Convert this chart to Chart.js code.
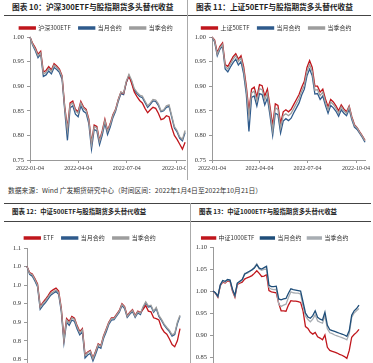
<!DOCTYPE html>
<html>
<head>
<meta charset="utf-8">
<script src="https://cdn.jsdelivr.net/npm/chart.js@4.4.0/dist/chart.umd.min.js"></script>
<style>
html, body { margin: 0; padding: 0; background: #fff; }
body { width: 373px; height: 363px; position: relative; overflow: hidden; font-family: "Noto Sans CJK SC", sans-serif; }
.clip { position: absolute; overflow: hidden; }
.box { position: absolute; left: 0; }
.title { position: absolute; font-weight: bold; color: #222; white-space: nowrap; line-height: 10px; }
.note { position: absolute; font-size: 6.8px; color: #333; white-space: nowrap; line-height: 10px; }
.hline { position: absolute; height: 1px; background: #444; }
.vline { position: absolute; width: 1px; background: #aaa; }
</style>
</head>
<body>
<div class="title" style="left:12px;top:2px;font-size:7.7px">图表 10：沪深300ETF与股指期货多头替代收益</div>
<div class="title" style="left:196px;top:2px;font-size:7.7px">图表 11：上证50ETF与股指期货多头替代收益</div>
<div class="hline" style="left:4px;top:15px;width:367px"></div>
<div class="vline" style="left:187px;top:0;height:180px"></div>
<div class="note" style="left:8px;top:185px">数据来源：Wind 广发期货研究中心（时间区间：2022年1月4日至2022年10月21日）</div>
<div class="hline" style="left:4px;top:203px;width:367px"></div>
<div class="title" style="left:12px;top:207px;font-size:6.4px">图表 12：中证500ETF与股指期货多头替代收益</div>
<div class="title" style="left:199px;top:207px;font-size:6.4px">图表 13：中证1000ETF与股指期货多头替代收益</div>
<div class="hline" style="left:4px;top:221px;width:367px"></div>
<div class="vline" style="left:190px;top:203px;height:160px"></div>

<div class="clip" style="left:0;top:17px;width:186px;height:163px"><div class="box" style="top:0;width:192px;height:163px"><canvas id="c300"></canvas></div></div>
<div class="clip" style="left:188px;top:17px;width:185px;height:163px"><div class="box" style="top:0;width:185px;height:163px"><canvas id="c50"></canvas></div></div>
<div class="clip" style="left:0;top:222px;width:189px;height:141px"><div class="box" style="top:5px;width:189px;height:171px"><canvas id="c500"></canvas></div></div>
<div class="clip" style="left:191px;top:222px;width:182px;height:141px"><div class="box" style="top:7px;width:182px;height:170px"><canvas id="c1000"></canvas></div></div>

<script>
// calendar days after 2022-01-04
var days = [0,5,10,15,20,25,30,35,40,45,50,55,60,65,70,75,80,85,90,95,100,105,110,115,120,125,130,135,140,145,150,155,160,165,170,175,180,185,190,195,200,205,210,215,220,225,230,235,240,245,250,255,260,265,270,275,280,285,290];
var xTickDays = [0, 90, 181, 273];
var xTickLabels = ['2022-01-04', '2022-04-04', '2022-07-04', '2022-10-04'];

var yTicksTop = [0.75, 0.80, 0.85, 0.90, 0.95, 1.00];
var yLabelsTop = ['0.75', '0.80', '0.85', '0.90', '0.95', '1.00'];
var yTicks500 = [0.70, 0.75, 0.80, 0.85, 0.90, 0.95, 1.00, 1.05];
var yLabels500 = ['0.7', '0.8', '0.8', '0.9', '0.9', '1.0', '1.0', '1.1'];
var yTicks1000 = [0.80, 0.85, 0.90, 0.95, 1.00, 1.05, 1.10];
var yLabels1000 = ['0.80', '0.85', '0.90', '0.95', '1.00', '1.05', '1.10'];

// 沪深300
var hs300Etf = [1.000,0.987,0.978,0.965,0.971,0.929,0.932,0.940,0.933,0.946,0.941,0.935,0.921,0.858,0.815,0.866,0.870,0.853,0.848,0.869,0.858,0.853,0.833,0.785,0.821,0.818,0.790,0.809,0.833,0.810,0.824,0.842,0.853,0.873,0.888,0.885,0.908,0.921,0.906,0.888,0.879,0.871,0.866,0.855,0.846,0.852,0.857,0.855,0.845,0.832,0.834,0.840,0.838,0.816,0.800,0.792,0.782,0.772,0.786];
var hs300Month = [1.000,0.983,0.972,0.958,0.965,0.920,0.923,0.931,0.925,0.938,0.934,0.928,0.914,0.850,0.790,0.856,0.860,0.843,0.838,0.860,0.849,0.845,0.824,0.772,0.812,0.809,0.781,0.800,0.825,0.802,0.817,0.836,0.849,0.869,0.885,0.883,0.907,0.921,0.909,0.892,0.885,0.879,0.877,0.867,0.857,0.863,0.870,0.869,0.861,0.848,0.850,0.857,0.859,0.837,0.815,0.807,0.794,0.789,0.806];
var hs300Quarter = [1.000,0.985,0.975,0.962,0.968,0.925,0.928,0.936,0.930,0.943,0.938,0.932,0.919,0.855,0.810,0.862,0.866,0.850,0.845,0.866,0.855,0.850,0.830,0.782,0.818,0.815,0.788,0.806,0.830,0.808,0.822,0.840,0.852,0.872,0.888,0.886,0.910,0.924,0.912,0.895,0.888,0.882,0.880,0.870,0.860,0.866,0.873,0.872,0.864,0.850,0.852,0.860,0.862,0.840,0.818,0.810,0.797,0.792,0.810];

// 上证50
var sz50Etf = [1.000,0.994,0.968,0.981,0.988,0.944,0.940,0.950,0.960,0.966,0.955,0.962,0.940,0.900,0.850,0.894,0.898,0.878,0.903,0.901,0.880,0.894,0.858,0.820,0.864,0.861,0.824,0.848,0.852,0.848,0.853,0.863,0.873,0.883,0.898,0.910,0.938,0.952,0.938,0.900,0.900,0.888,0.894,0.874,0.858,0.873,0.868,0.860,0.850,0.862,0.854,0.848,0.860,0.838,0.822,0.816,0.807,0.799,0.790];
var sz50Month = [1.000,0.990,0.962,0.975,0.982,0.935,0.929,0.939,0.948,0.955,0.943,0.950,0.925,0.884,0.808,0.877,0.880,0.860,0.885,0.883,0.862,0.876,0.840,0.800,0.845,0.842,0.805,0.829,0.834,0.830,0.835,0.846,0.856,0.866,0.882,0.894,0.921,0.935,0.921,0.884,0.885,0.873,0.880,0.861,0.845,0.861,0.856,0.849,0.839,0.852,0.845,0.840,0.853,0.832,0.817,0.812,0.804,0.796,0.786];
var sz50Quarter = [1.000,0.992,0.965,0.978,0.985,0.940,0.935,0.945,0.955,0.962,0.950,0.957,0.933,0.893,0.840,0.886,0.890,0.870,0.895,0.893,0.872,0.886,0.850,0.810,0.856,0.853,0.815,0.840,0.844,0.840,0.845,0.855,0.865,0.875,0.890,0.902,0.930,0.944,0.930,0.892,0.893,0.881,0.888,0.868,0.852,0.868,0.863,0.855,0.845,0.858,0.850,0.845,0.858,0.836,0.820,0.815,0.806,0.798,0.789];

// 中证500
var zz500Etf = [1.000,0.984,0.980,0.968,0.953,0.893,0.903,0.912,0.922,0.933,0.938,0.942,0.934,0.888,0.805,0.860,0.852,0.866,0.861,0.841,0.825,0.833,0.763,0.770,0.774,0.754,0.772,0.792,0.787,0.813,0.831,0.850,0.862,0.862,0.872,0.882,0.900,0.892,0.868,0.877,0.884,0.868,0.880,0.876,0.885,0.895,0.880,0.878,0.862,0.860,0.856,0.835,0.824,0.818,0.805,0.790,0.784,0.800,0.833];
var zz500Month = [1.000,0.979,0.974,0.961,0.946,0.885,0.895,0.903,0.913,0.923,0.928,0.933,0.925,0.879,0.795,0.850,0.842,0.856,0.852,0.832,0.816,0.824,0.754,0.762,0.766,0.746,0.764,0.784,0.780,0.806,0.824,0.844,0.856,0.857,0.867,0.877,0.895,0.887,0.863,0.872,0.879,0.863,0.875,0.871,0.889,0.902,0.891,0.893,0.877,0.887,0.866,0.855,0.842,0.833,0.825,0.813,0.817,0.846,0.866];
var zz500Quarter = [1.000,0.982,0.978,0.965,0.950,0.890,0.900,0.908,0.918,0.928,0.932,0.937,0.930,0.885,0.800,0.856,0.848,0.862,0.858,0.838,0.822,0.830,0.760,0.768,0.772,0.752,0.770,0.790,0.785,0.811,0.829,0.848,0.860,0.860,0.870,0.880,0.898,0.890,0.866,0.875,0.882,0.866,0.878,0.874,0.892,0.905,0.894,0.896,0.880,0.890,0.869,0.858,0.845,0.836,0.828,0.816,0.820,0.850,0.869];

// 中证1000 (trading days after 2022-07-22)
var zz1000Days = [0,1,2,3,4,5,6,7,8,9,10,11,12,13,14,15,16,17,18,19,20,21,22,23,24,25,26,27,28,29,30,31,32,33,34,35,36,37,38,39,40,41,42,43,44,45,46,47,48,49,50,51,52,53,54,55,56,57,58,59,60];
var zz1000Etf = [1.000,0.995,0.986,1.012,1.020,1.018,1.023,1.022,1.000,0.986,1.015,1.018,1.020,1.027,1.030,1.032,1.035,1.040,1.046,1.040,1.033,1.034,1.037,1.001,0.998,0.997,0.996,0.972,0.955,0.955,0.954,0.968,0.978,0.977,0.977,0.976,0.974,0.955,0.919,0.915,0.906,0.902,0.906,0.896,0.893,0.889,0.900,0.872,0.865,0.863,0.861,0.859,0.856,0.854,0.851,0.847,0.865,0.895,0.901,0.906,0.913];
var zz1000Month = [1.000,0.996,0.988,1.014,1.024,1.022,1.026,1.025,1.004,0.990,1.018,1.022,1.026,1.038,1.042,1.045,1.048,1.052,1.060,1.052,1.050,1.053,1.056,1.013,1.010,1.010,1.011,0.982,0.980,0.982,0.983,0.995,1.005,1.003,1.002,1.001,1.000,0.975,0.950,0.941,0.938,0.944,0.955,0.940,0.936,0.934,0.952,0.922,0.912,0.910,0.908,0.906,0.904,0.902,0.900,0.897,0.910,0.945,0.955,0.960,0.968];
var zz1000Quarter = [1.000,0.995,0.987,1.013,1.022,1.020,1.025,1.024,1.002,0.988,1.017,1.020,1.024,1.040,1.040,1.044,1.048,1.054,1.062,1.050,1.047,1.049,1.050,1.008,1.004,1.003,1.004,0.970,0.965,0.968,0.970,0.985,0.998,0.996,0.995,0.995,0.993,0.965,0.943,0.935,0.930,0.936,0.946,0.932,0.929,0.927,0.944,0.914,0.905,0.903,0.900,0.898,0.896,0.894,0.892,0.889,0.903,0.940,0.950,0.955,0.960];

var RED = '#c0161c', BLUE = '#2f5b8c', GRAY = '#9d9d9d';

function pts(xs, ys) {
    return ys.map(function(y, i) { return {x: xs[i], y: y}; });
}

function line(label, xs, ys, color, order) {
    return {
        label: label,
        data: pts(xs, ys),
        borderColor: color,
        backgroundColor: color,
        borderWidth: 1.3,
        pointRadius: 0,
        tension: 0,
        clip: 6,
        order: order
    };
}

function makeChart(id, o) {
    var ctx = document.getElementById(id).getContext('2d');
    return new Chart(ctx, {
        type: 'line',
        data: { datasets: o.datasets },
        options: {
            responsive: true,
            maintainAspectRatio: false,
            animation: false,
            layout: { padding: o.padding || 0 },
            scales: {
                x: {
                    type: 'linear',
                    min: o.xMin,
                    max: o.xMax,
                    afterBuildTicks: function(scale) {
                        scale.ticks = o.xTicks.map(function(v) { return {value: v}; });
                    },
                    afterFit: function(scale) { scale.height = 20; },
                    ticks: {
                        display: o.xLabels !== null,
                        autoSkip: false,
                        maxRotation: 0,
                        minRotation: 0,
                        padding: 2,
                        color: '#333',
                        font: { family: 'Liberation Serif', size: 6 },
                        callback: function(v, i) { return o.xLabels ? o.xLabels[i] : ''; }
                    },
                    grid: { drawOnChartArea: false, drawTicks: true, tickLength: 3, color: '#999' },
                    border: { display: true, color: '#999' }
                },
                y: {
                    min: o.yTicks[0],
                    max: o.yTicks[o.yTicks.length - 1],
                    afterBuildTicks: function(scale) {
                        scale.ticks = o.yTicks.map(function(v) { return {value: v}; });
                    },
                    afterFit: function(scale) { scale.width = o.yWidth; },
                    ticks: {
                        padding: 3,
                        color: '#333',
                        font: { family: 'Liberation Serif', size: 6.5 },
                        callback: function(v, i) { return o.yLabels[i]; }
                    },
                    grid: { drawOnChartArea: false, drawTicks: true, tickLength: 3, color: '#999' },
                    border: { display: true, color: '#999' }
                }
            },
            plugins: {
                legend: {
                    display: true,
                    position: 'top',
                    maxHeight: o.legendHeight,
                    labels: {
                        boxWidth: o.legendBox,
                        boxHeight: 2,
                        padding: o.legendPad,
                        color: '#333',
                        font: { family: 'Noto Sans CJK SC', size: 6 },
                        sort: function(a, b) { return a.datasetIndex - b.datasetIndex; }
                    }
                },
                tooltip: { enabled: false }
            }
        }
    });
}

makeChart('c300', {
    datasets: [
        line('沪深300ETF', days, hs300Etf, RED, 2),
        line('当月合约', days, hs300Month, BLUE, 3),
        line('当季合约', days, hs300Quarter, GRAY, 1)
    ],
    xMin: 0, xMax: 290, xTicks: xTickDays, xLabels: xTickLabels,
    yTicks: yTicksTop, yLabels: yLabelsTop, yWidth: 30,
    legendHeight: 20, legendPad: 8, legendBox: 16
});

makeChart('c50', {
    datasets: [
        line('上证50ETF', days, sz50Etf, RED, 2),
        line('当月合约', days, sz50Month, BLUE, 3),
        line('当季合约', days, sz50Quarter, GRAY, 1)
    ],
    xMin: 0, xMax: 290, xTicks: xTickDays, xLabels: xTickLabels,
    yTicks: yTicksTop, yLabels: yLabelsTop, yWidth: 24,
    legendHeight: 20, legendPad: 8, legendBox: 16,
    padding: { right: 8 }
});

makeChart('c500', {
    datasets: [
        line('ETF', days, zz500Etf, RED, 2),
        line('当月合约', days, zz500Month, BLUE, 3),
        line('当季合约', days, zz500Quarter, GRAY, 1)
    ],
    xMin: 0, xMax: 290, xTicks: xTickDays, xLabels: xTickLabels,
    yTicks: yTicks500, yLabels: yLabels500, yWidth: 27,
    legendHeight: 21, legendPad: 8, legendBox: 16,
    padding: { right: 9 }
});

makeChart('c1000', {
    datasets: [
        line('中证1000ETF', zz1000Days, zz1000Etf, RED, 3),
        line('当月合约', zz1000Days, zz1000Month, '#1f4e79', 1),
        line('当季合约', zz1000Days, zz1000Quarter, '#a8adb3', 2)
    ],
    xMin: 0, xMax: 60, xTicks: [0, 20, 40, 60], xLabels: null,
    yTicks: yTicks1000, yLabels: yLabels1000, yWidth: 22,
    legendHeight: 18, legendPad: 6, legendBox: 14,
    padding: { right: 14 }
});
</script>
</body>
</html>
